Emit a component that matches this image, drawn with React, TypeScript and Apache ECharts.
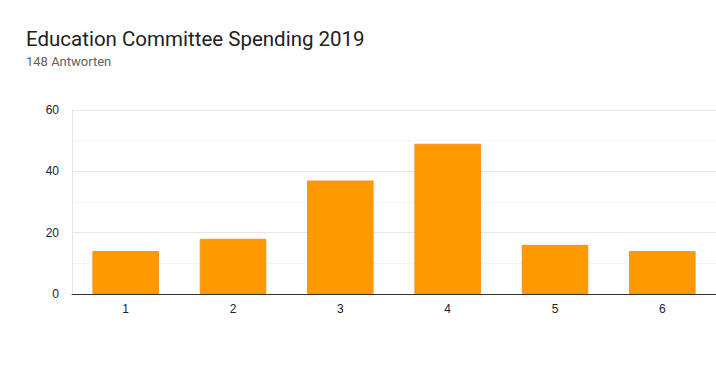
import React, { useEffect, useRef } from "react";
import * as echarts from "echarts";

const categories = ["1", "2", "3", "4", "5", "6"];
const values = [14, 18, 37, 49, 16, 14];
const titleText = "Education Committee Spending 2019";
const subtitleText = "148 Antworten";

export default function App() {
  const ref = useRef<HTMLDivElement>(null);
  useEffect(() => {
    const chart = echarts.init(ref.current!, null, { renderer: "svg" });
    chart.setOption({
      animation: false,
      backgroundColor: "#ffffff",
      title: {
        text: titleText,
        subtext: subtitleText,
        left: 21,
        top: 23,
        itemGap: 6,
        textStyle: { fontFamily: "Roboto", fontSize: 20.5, fontWeight: "normal", color: "#212121" },
        subtextStyle: { fontFamily: "Roboto", fontSize: 13, color: "#616161" },
      },
      grid: { left: 72, right: 0, top: 110, bottom: 77, containLabel: false },
      xAxis: {
        type: "category",
        data: categories,
        axisLine: { show: true, lineStyle: { color: "#333333", width: 1 } },
        axisTick: { show: false },
        axisLabel: { fontFamily: "Arial", fontSize: 12, color: "#222222", margin: 9 },
      },
      yAxis: {
        type: "value",
        min: 0,
        max: 60,
        interval: 20,
        axisLine: { show: true, lineStyle: { color: "#e6e6e6" } },
        axisTick: { show: false },
        axisLabel: { fontFamily: "Arial", fontSize: 12, color: "#222222", margin: 13 },
        splitLine: { show: true, lineStyle: { color: "#e6e6e6" } },
        minorTick: { show: false, splitNumber: 2 },
        minorSplitLine: { show: true, lineStyle: { color: "#f4f4f4" } },
      },
      series: [
        {
          type: "bar",
          data: values,
          barWidth: "62%",
          itemStyle: { color: "#ff9900", borderColor: "#f7931e", borderWidth: 1 },
        },
      ],
    });
    return () => chart.dispose();
  }, []);
  return (
    <div
      ref={ref}
      style={{ position: "absolute", left: 0, top: 0, width: 716, height: 371 }}
    />
  );
}
